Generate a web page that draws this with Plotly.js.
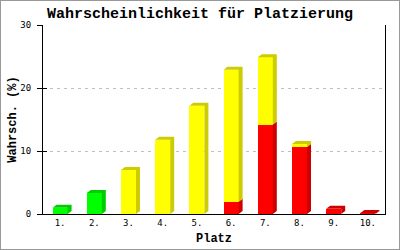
<!DOCTYPE html>
<html>
<head>
<meta charset="utf-8">
<script src="https://cdn.plot.ly/plotly-3.0.1.min.js"></script>
<style>
html,body{margin:0;padding:0;background:#fff;}
#wrap{position:relative;width:400px;height:250px;}
#chart{width:400px;height:250px;}
#frame{position:absolute;left:0;top:0;width:400px;height:250px;box-sizing:border-box;border:1px solid #999;pointer-events:none;}
</style>
</head>
<body>
<div id="wrap"><div id="chart"></div><div id="frame"></div></div>
<script>
// ---- data ----
const categories = ['1.','2.','3.','4.','5.','6.','7.','8.','9.','10.'];
const redValues    = [0, 0, 0, 0, 0, 1.95, 14.2, 10.65, 0.85, 0.15];
const yellowValues = [0, 0, 7.0, 11.8, 17.2, 20.95, 10.7, 0.45, 0, 0];
const greenValues  = [1.0, 3.35, 0, 0, 0, 0, 0, 0, 0, 0];
const yTicks = [0, 10, 20, 30];

// ---- styles ----
const series = [
  {vals: redValues,    front: '#ff0000', side: '#cc0000'},
  {vals: yellowValues, front: '#ffff00', side: '#cccc00'},
  {vals: greenValues,  front: '#00ff00', side: '#00cc00'}
];
const W = 400, H = 250;
const margin = {l: 43, r: 15, t: 25, b: 36};
const plotW = W - margin.l - margin.r, plotH = H - margin.t - margin.b;
const xRange = [0.5, categories.length + 0.5];
const yRange = [0, 30];
const pxX = (xRange[1] - xRange[0]) / plotW;
const pxY = (yRange[1] - yRange[0]) / plotH;
const depthX = 4 * pxX, depthY = 3 * pxY;
const barW = 15 * pxX;
const xs = categories.map((_, i) => i + 1);

const traces = [];
// front faces (stacked bars)
series.forEach(s => {
  traces.push({
    type: 'bar', x: xs, y: s.vals, width: barW,
    marker: {color: s.front, line: {width: 0}},
    hoverinfo: 'skip', showlegend: false
  });
});

// 3D faces
const faces = {};
series.forEach(s => { faces[s.side] = {x: [], y: []}; });
function addPoly(col, px, py) {
  const f = faces[col];
  f.x.push(...px, px[0], null);
  f.y.push(...py, py[0], null);
}
xs.forEach((x, i) => {
  let base = 0, topSeries = null;
  series.forEach(s => {
    const v = s.vals[i];
    if (v > 0) {
      const b0 = base, b1 = base + v;
      const r = x + barW / 2;
      addPoly(s.side, [r, r + depthX, r + depthX, r], [b0, b0 + depthY, b1 + depthY, b1]);
      base = b1; topSeries = s;
    }
  });
  if (topSeries) {
    const l = x - barW / 2, r = x + barW / 2;
    addPoly(topSeries.side, [l, l + depthX, r + depthX, r], [base, base + depthY, base + depthY, base]);
  }
});
Object.keys(faces).forEach(col => {
  traces.push({
    type: 'scatter', mode: 'lines', x: faces[col].x, y: faces[col].y,
    fill: 'toself', fillcolor: col, line: {width: 0, color: col},
    hoverinfo: 'skip', showlegend: false, connectgaps: false
  });
});
// helper trace for inner tick marks
traces.push({type: 'scatter', x: [null], y: [null], yaxis: 'y2', hoverinfo: 'skip', showlegend: false});

const tickFont = {family: 'DejaVu Sans Mono, monospace', size: 9, color: '#000'};
const layout = {
  width: W, height: H, margin: margin,
  paper_bgcolor: '#fff', plot_bgcolor: '#fff',
  barmode: 'stack', bargap: 0, showlegend: false,
  title: {
    text: 'Wahrscheinlichkeit für Platzierung',
    font: {family: 'Liberation Mono, monospace', size: 15, color: '#000', weight: 'bold'},
    x: 0.5, xref: 'container', xanchor: 'center',
    y: 1 - 13 / H, yref: 'container', yanchor: 'middle'
  },
  xaxis: {
    range: xRange, tickvals: xs, ticktext: categories,
    showgrid: false, zeroline: false, ticks: '',
    showline: true, linecolor: '#000', linewidth: 1,
    tickfont: tickFont,
    title: {text: 'Platz', font: {family: 'Liberation Mono, monospace', size: 12, color: '#000', weight: 'bold'}, standoff: 6}
  },
  yaxis: {
    range: yRange, tickvals: yTicks, ticktext: yTicks.map(String),
    showgrid: true, gridcolor: '#c0c0c0', griddash: '3px,4px', gridwidth: 1,
    zeroline: false, showline: true, mirror: true, linecolor: '#000', linewidth: 1,
    ticks: 'outside', ticklen: 5, tickcolor: '#000', tickwidth: 1,
    ticklabelstandoff: 4,
    tickfont: tickFont,
    title: {text: 'Wahrsch. (%)', font: {family: 'Liberation Mono, monospace', size: 12, color: '#000', weight: 'bold'}, standoff: 0}
  },
  yaxis2: {
    overlaying: 'y', side: 'left', range: yRange, tickvals: yTicks,
    showgrid: false, zeroline: false, showline: false, showticklabels: false,
    ticks: 'inside', ticklen: 4, tickcolor: '#000', tickwidth: 1
  }
};
Plotly.newPlot('chart', traces, layout, {staticPlot: true, displayModeBar: false});
</script>
</body>
</html>
